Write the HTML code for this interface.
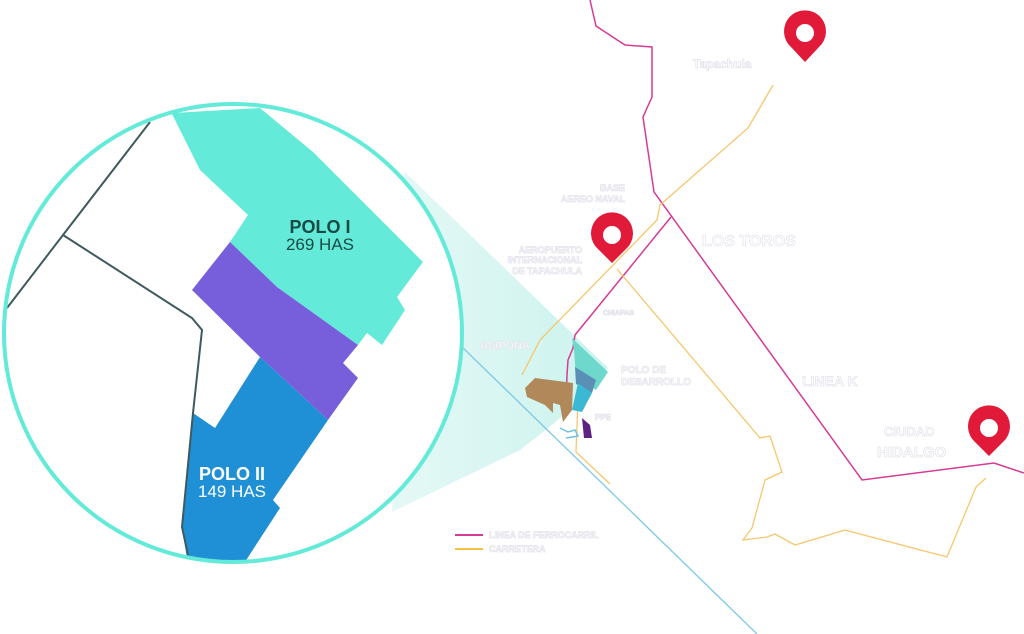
<!DOCTYPE html>
<html><head><meta charset="utf-8"><style>
html,body{margin:0;padding:0;background:#fff;width:1024px;height:634px;overflow:hidden}
svg{display:block}
text{font-family:"Liberation Sans",sans-serif;font-weight:bold}
.g{fill:#fff;stroke:#e6e4ec;stroke-width:0.8}
</style></head><body>
<svg width="1024" height="634" viewBox="0 0 1024 634" xmlns="http://www.w3.org/2000/svg">
<defs>
<linearGradient id="cone" x1="0" y1="0" x2="1" y2="0">
<stop offset="0" stop-color="#e2f8f5" stop-opacity="0.9"/>
<stop offset="1" stop-color="#c8f2ec" stop-opacity="0.95"/>
</linearGradient>
<clipPath id="circ"><circle cx="233" cy="333" r="229"/></clipPath>
</defs>
<!-- cone -->
<polygon points="405,172 608,368 580,402 543,432 520,450 392,512" fill="url(#cone)"/>
<!-- lines -->
<polyline points="590,0 596,26 625,45 652,47 652,97 643,117 654,192 862,480 994,463 1024,473" fill="none" stroke="#d63c94" stroke-width="1.5"/>
<polyline points="671,217 575,335 573,348 568,360 567,375 566,405" fill="none" stroke="#d63c94" stroke-width="1.5"/>
<polyline points="773,85 748,128 660,205 657,220 540,340 522,375" fill="none" stroke="#f6c66e" stroke-width="1.3"/>
<polyline points="617,269 760,438 770,436 782,472 765,480 752,528 743,540 767,537 775,534 795,545 845,530 947,557 976,487 986,478" fill="none" stroke="#f6c66e" stroke-width="1.3"/>
<polyline points="578,400 576,452 610,484" fill="none" stroke="#f6c66e" stroke-width="1.3"/>
<line x1="460" y1="345" x2="757" y2="634" stroke="#7ec9e8" stroke-width="1.3"/>
<!-- site -->
<polygon points="572,338 608,372 596,390 576,376 574,350" fill="#6fd8cc"/>
<polygon points="575,367 596,380 592,393 576,384" fill="#5b8fb5"/>
<polygon points="578,383 592,393 582,412 572,410" fill="#3bb8d4"/>
<polygon points="525,388 535,378 573,383 572,410 563,422 560,405 553,403 553,413 545,405 527,397" fill="#b0885a"/>
<polygon points="582,418 590,425 592,438 584,438" fill="#5c2380"/>
<polyline points="560,428 568,432 575,430 578,436 566,438" fill="none" stroke="#6cc3e6" stroke-width="1.5"/>
<!-- circle -->
<g clip-path="url(#circ)">
<rect x="0" y="100" width="470" height="470" fill="#fff"/>
<polygon points="173,113 260,108 313,152 423,262 397,297 405,310 382,345 367,333 358,345 277,287 230,242 248,215 200,170 160,90" fill="#64ead8"/>
<polygon points="230,242 277,287 358,345 343,363 358,378 328,420 260,357 192,290" fill="#775fdc"/>
<polygon points="260,357 328,420 273,500 280,508 243,565 188,565 182,527 193,413 215,428" fill="#1f90d6"/>
<polyline points="150,122 63,235 7,308" fill="none" stroke="#3e5a5e" stroke-width="2"/>
<polyline points="63,235 192,318 202,330 193,413 182,527 188,555" fill="none" stroke="#3e5a5e" stroke-width="2"/>
</g>
<circle cx="233" cy="333" r="229" fill="none" stroke="#64ead8" stroke-width="4"/>
<text x="320" y="233" text-anchor="middle" font-size="18" fill="#1a4a46" style="font-weight:bold">POLO I</text>
<text x="320" y="250" text-anchor="middle" font-size="17" fill="#1a4a46" style="font-weight:normal">269 HAS</text>
<text x="232" y="480" text-anchor="middle" font-size="18" fill="#fff">POLO II</text>
<text x="232" y="497" text-anchor="middle" font-size="17" fill="#fff" style="font-weight:normal">149 HAS</text>
<!-- pins -->
<g fill="#e01a38">
<path d="M805,62 L791,47 A21,21 0 1 1 819,47 Z"/><circle cx="805" cy="33" r="9" fill="#fff"/>
<path d="M612,263 L598,249 A21,21 0 1 1 626,249 Z"/><circle cx="612" cy="235" r="9" fill="#fff"/>
<path d="M989,456 L975,442 A21,21 0 1 1 1003,442 Z"/><circle cx="989" cy="428" r="9" fill="#fff"/>
</g>
<!-- labels -->
<text class="g" x="693" y="68" font-size="12">Tapachula</text>
<text class="g" x="625" y="191" font-size="9" text-anchor="end">BASE</text>
<text class="g" x="625" y="202" font-size="9" text-anchor="end">AEREO NAVAL</text>
<text class="g" x="582" y="253" font-size="9" text-anchor="end">AEROPUERTO</text>
<text class="g" x="582" y="263" font-size="9" text-anchor="end">INTERNACIONAL</text>
<text class="g" x="582" y="274" font-size="9" text-anchor="end">DE TAPACHULA</text>
<text class="g" x="702" y="246" font-size="16">LOS TOROS</text>
<text class="g" x="603" y="315" font-size="7">CHIAPAS</text>
<text class="g" x="480" y="349" font-size="11">ASIPONA</text>
<text class="g" x="621" y="373" font-size="10">POLO DE</text>
<text class="g" x="621" y="385" font-size="10">DESARROLLO</text>
<text class="g" x="595" y="420" font-size="8">PPE</text>
<text class="g" x="802" y="386" font-size="14">LINEA K</text>
<text class="g" x="884" y="436" font-size="13">CIUDAD</text>
<text class="g" x="877" y="457" font-size="15">HIDALGO</text>
<line x1="455" y1="535" x2="483" y2="535" stroke="#d63c94" stroke-width="2"/>
<line x1="455" y1="549" x2="483" y2="549" stroke="#f6c040" stroke-width="2"/>
<text class="g" x="489" y="538" font-size="9">LINEA DE FERROCARRIL</text>
<text class="g" x="489" y="552" font-size="9">CARRETERA</text>
</svg>
</body></html>
